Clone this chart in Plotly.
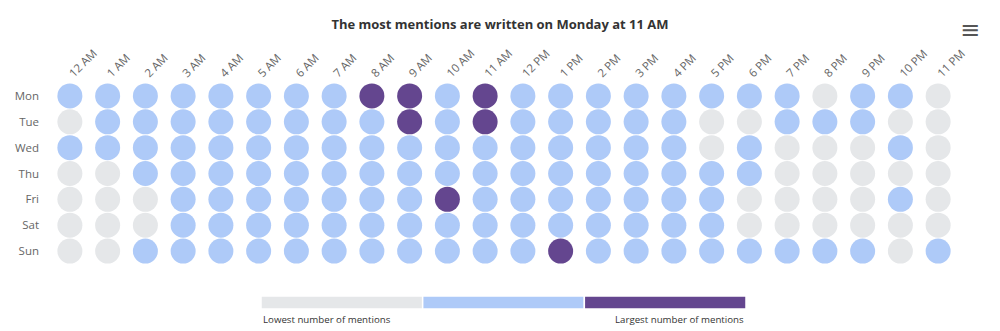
import plotly.graph_objects as go

# ---- data ----
days = ["Mon", "Tue", "Wed", "Thu", "Fri", "Sat", "Sun"]
hours = ["12 AM", "1 AM", "2 AM", "3 AM", "4 AM", "5 AM", "6 AM", "7 AM", "8 AM", "9 AM",
         "10 AM", "11 AM", "12 PM", "1 PM", "2 PM", "3 PM", "4 PM", "5 PM", "6 PM", "7 PM",
         "8 PM", "9 PM", "10 PM", "11 PM"]
# mention level: 0 = lowest, 1 = medium, 2 = largest
mon = [1, 1, 1, 1, 1, 1, 1, 1, 2, 2, 1, 2, 1, 1, 1, 1, 1, 1, 1, 1, 0, 1, 1, 0]
tue = [0, 1, 1, 1, 1, 1, 1, 1, 1, 2, 1, 2, 1, 1, 1, 1, 1, 0, 0, 1, 1, 1, 0, 0]
wed = [1, 1, 1, 1, 1, 1, 1, 1, 1, 1, 1, 1, 1, 1, 1, 1, 1, 0, 1, 0, 0, 0, 1, 0]
thu = [0, 0, 1, 1, 1, 1, 1, 1, 1, 1, 1, 1, 1, 1, 1, 1, 1, 1, 1, 0, 0, 0, 0, 0]
fri = [0, 0, 0, 1, 1, 1, 1, 1, 1, 1, 2, 1, 1, 1, 1, 1, 1, 1, 0, 0, 0, 0, 1, 0]
sat = [0, 0, 0, 1, 1, 1, 1, 1, 1, 1, 1, 1, 1, 1, 1, 1, 1, 1, 0, 0, 0, 0, 0, 0]
sun = [0, 0, 1, 1, 1, 1, 1, 1, 1, 1, 1, 1, 1, 2, 1, 1, 1, 1, 1, 1, 1, 1, 0, 1]
legend_labels = ["Lowest number of mentions", "Largest number of mentions"]
title = "The most mentions are written on Monday at 11 AM"

# ---- style ----
palette = ["#e5e7e9", "#aecaf8", "#64468f"]
FONT = "Open Sans"
grey_text = "#666666"

rows = [mon, tue, wed, thu, fri, sat, sun]
xs, ys, cs = [], [], []
for d, row in zip(days, rows):
    for h, lvl in zip(hours, row):
        xs.append(h)
        ys.append(d)
        cs.append(palette[lvl])

fig = go.Figure()
fig.add_trace(go.Scatter(
    x=xs, y=ys, mode="markers",
    marker=dict(size=25, color=cs, line=dict(width=0)),
    hoverinfo="x+y", showlegend=False,
))

# colour legend bar
fig.add_trace(go.Bar(
    x=[1, 1, 1], base=[0, 1, 2], y=[0, 0, 0], orientation="h", width=1,
    marker=dict(color=palette, line=dict(color="white", width=1.5)),
    xaxis="x2", yaxis="y2", showlegend=False, hoverinfo="skip",
))

W, H = 1000, 331
ml, mr, mt, mb = 51, 43, 83, 20
ph = H - mt - mb
pw = W - ml - mr
main_bottom = (H - mb - 264) / ph
leg_lo = (H - mb - 309) / ph
leg_hi = (H - mb - 296) / ph
leg_x0 = (261 - ml) / pw
leg_x1 = (746 - ml) / pw

fig.update_layout(
    width=W, height=H,
    margin=dict(l=ml, r=mr, t=mt, b=mb),
    paper_bgcolor="white", plot_bgcolor="white",
    font=dict(family=FONT, color=grey_text, size=12),
    title=dict(text="<b>" + title + "</b>", x=0.5, xanchor="center",
               y=1 - 24 / H, yanchor="middle", yref="container",
               font=dict(family=FONT, size=13, color="#333333")),
    xaxis=dict(type="category", categoryorder="array", categoryarray=hours,
               side="top", tickangle=-45, range=[-0.5, 23.5],
               showgrid=False, zeroline=False, showline=False, ticks="",
               tickfont=dict(size=11.5, color=grey_text), fixedrange=True),
    yaxis=dict(type="category", categoryorder="array", categoryarray=days,
               range=[6.5, -0.5], domain=[main_bottom, 1],
               showgrid=False, zeroline=False, showline=False, ticks="",
               ticklabelstandoff=11,
               tickfont=dict(size=11.5, color=grey_text), fixedrange=True),
    xaxis2=dict(domain=[leg_x0, leg_x1], anchor="y2", range=[0, 3],
                visible=False, fixedrange=True),
    yaxis2=dict(domain=[leg_lo, leg_hi], anchor="x2", range=[-0.5, 0.5],
                visible=False, fixedrange=True),
    annotations=[
        dict(text=legend_labels[0], x=0, y=-0.5, xref="x2", yref="y2",
             xanchor="left", yanchor="top", yshift=-2, showarrow=False,
             font=dict(size=9.7, color="#333333")),
        dict(text=legend_labels[1], x=3, y=-0.5, xref="x2", yref="y2",
             xanchor="right", yanchor="top", yshift=-2, showarrow=False,
             font=dict(size=9.7, color="#333333")),
        dict(text="≡", x=(970 - ml) / pw, y=(H - mb - 30) / ph,
             xref="paper", yref="paper",
             xanchor="center", yanchor="middle", showarrow=False,
             font=dict(family="DejaVu Sans", size=24, color="#555555")),
    ],
)

fig.write_html("out.html", config={"displayModeBar": False})
